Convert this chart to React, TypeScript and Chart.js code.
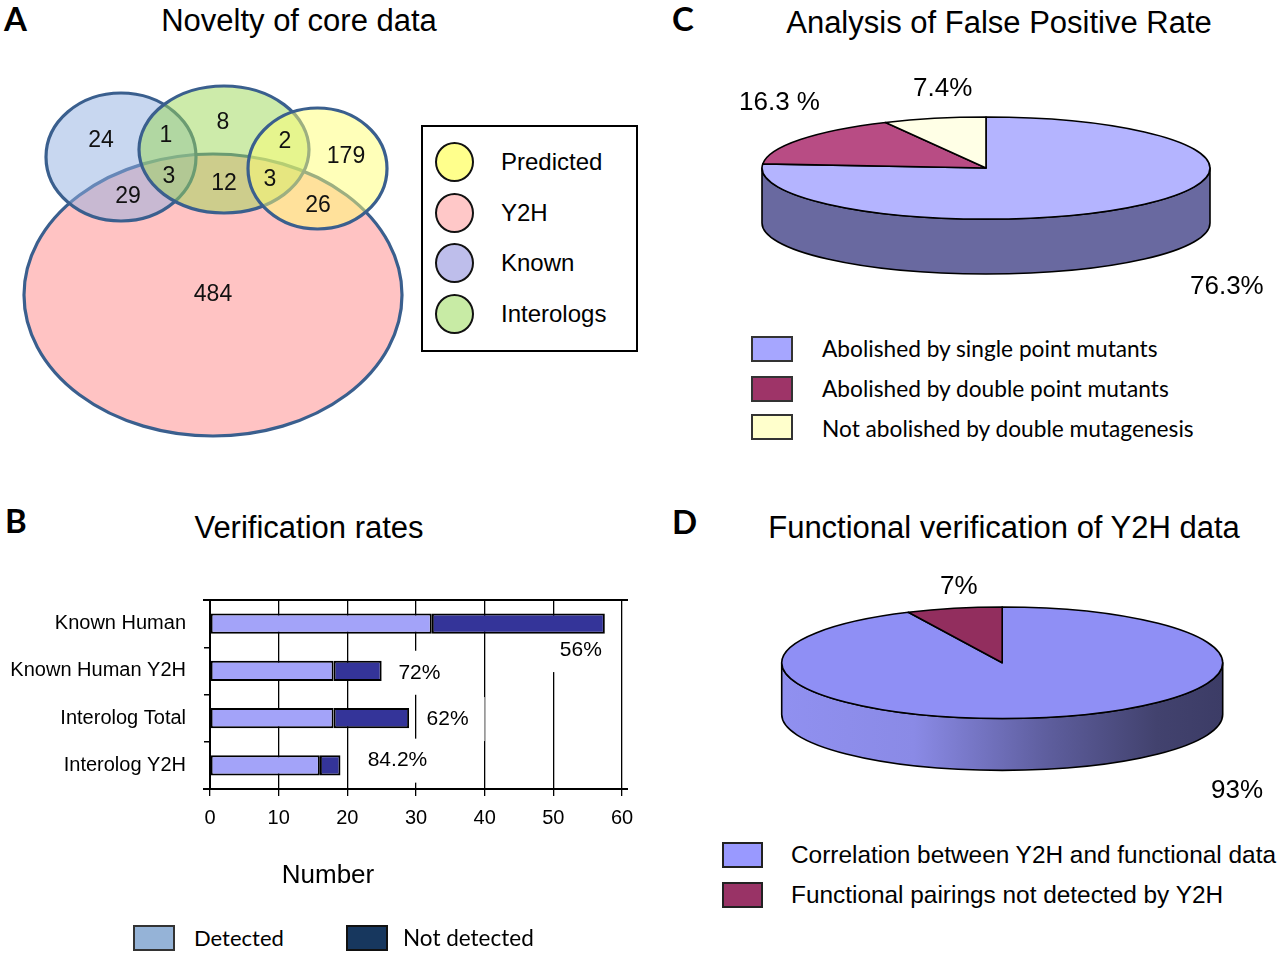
import React, { useEffect, useRef } from "react";
import { Chart, registerables } from "chart.js";

Chart.register(...registerables);
Chart.defaults.font.family = "'Liberation Sans', Arial, sans-serif";
Chart.defaults.color = "#000";

// ---------------- DATA ----------------
// Panel A: Venn diagram
const vennLegendSets = ["Predicted", "Y2H", "Known", "Interologs"];
const vennRegionCounts = [24, 1, 8, 2, 179, 3, 12, 3, 29, 26, 484];

// Panel B: verification rates
const barCategories = ["Known Human", "Known Human Y2H", "Interolog Total", "Interolog Y2H"];
const detectedCounts = [32.3, 18, 18, 16];
const notDetectedCounts = [25.2, 7, 11, 3];
const rateLabels = ["56%", "72%", "62%", "84.2%"];
const barSeriesNames = ["Detected", "Not detected"];
const xAxisTitle = "Number";
const xTickStep = 10;
const xMax = 60;

// Panel C: false positive rate
const fpLabels = ["Abolished by single point mutants", "Abolished by double point mutants", "Not abolished by double mutagenesis"];
const fpValues = [76.3, 16.3, 7.4];
const fpPctLabels = ["76.3%", "16.3 %", "7.4%"];

// Panel D: functional verification
const fnLabels = ["Correlation between Y2H and functional data", "Functional pairings not detected by Y2H"];
const fnValues = [93, 7];
const fnPctLabels = ["93%", "7%"];

// ---------------- LAYOUT / STYLE ----------------
const SANS = "'Liberation Sans', Arial, sans-serif";
const CAL = "Lato, 'Open Sans', sans-serif";

// Venn geometry (in page-pixel data units of the venn chart scales)
const VENN_ELLIPSES = [
  { cx: 213, cy: 295, rx: 189, ry: 141 },   // Y2H
  { cx: 121, cy: 157, rx: 75, ry: 64 },     // Known
  { cx: 224, cy: 149.5, rx: 85, ry: 63.5 }, // Interologs
  { cx: 317.5, cy: 168.5, rx: 69.5, ry: 60.5 }, // Predicted
];
const VENN_FILLS = ["rgb(255,195,195)", "rgba(145,175,225,0.5)", "rgba(155,215,85,0.5)", "rgba(255,255,115,0.5)"];
const VENN_LABEL_POS = [
  [101, 141], [166, 136], [223, 123], [285, 142], [346, 157],
  [169, 177], [224, 184], [270, 180], [128, 197], [318, 206], [213, 295],
];
const VENN_LEGEND_COLORS = ["#FFFF8C", "#FFC8C8", "#BEBEEB", "#C8EBA5"];

const RATE_POS_X = [54.0, 30.5, 34.6, 27.3];
const RATE_DY = [0.56, 0.04, 0.02, -0.1];

const FP_TOP = ["#B4B4FF", "#B84C84", "#FFFFE6"];
const FP_SIDE = ["#6969A0", "#6E2D4F", "#999988"];
const FN_TOP = ["#8F8FF5", "#922E5E"];

// ---------------- PLUGINS ----------------
const vennPlugin = {
  id: "venn",
  beforeDatasetsDraw(chart: any) {
    const { ctx } = chart;
    const xs = chart.scales.x, ys = chart.scales.y;
    ctx.save();
    VENN_ELLIPSES.forEach((e, i) => {
      const px = xs.getPixelForValue(e.cx);
      const py = ys.getPixelForValue(e.cy);
      const rx = Math.abs(xs.getPixelForValue(e.cx + e.rx) - px);
      const ry = Math.abs(ys.getPixelForValue(e.cy + e.ry) - py);
      ctx.beginPath();
      ctx.ellipse(px, py, rx, ry, 0, 0, Math.PI * 2);
      ctx.fillStyle = VENN_FILLS[i];
      ctx.fill();
      ctx.lineWidth = 3.2;
      ctx.strokeStyle = "#3A5F8E";
      ctx.stroke();
    });
    ctx.restore();
  },
  afterDatasetsDraw(chart: any) {
    const { ctx } = chart;
    const meta = chart.getDatasetMeta(0);
    ctx.save();
    ctx.font = `23px ${SANS}`;
    ctx.fillStyle = "#111";
    ctx.textAlign = "center";
    ctx.textBaseline = "middle";
    meta.data.forEach((pt: any, i: number) => {
      ctx.fillText(String(vennRegionCounts[i]), pt.x, pt.y);
    });
    ctx.restore();
  },
};

function makePie3d(cfg: { tilt: number; depth: number; sideColors?: string[]; gradient?: [number, string][] }) {
  return {
    id: "pie3d",
    beforeDatasetsDraw(chart: any) {
      const { ctx, chartArea: a } = chart;
      const meta = chart.getDatasetMeta(0);
      const ds = chart.data.datasets[0];
      const rx = (a.right - a.left) / 2;
      const ry = rx * cfg.tilt;
      const depth = rx * cfg.depth;
      const cx = (a.left + a.right) / 2;
      const cy = a.top + ry;
      ctx.save();
      ctx.lineWidth = 1.6;
      ctx.strokeStyle = "#000";
      ctx.lineJoin = "round";
      meta.data.forEach((arc: any, i: number) => {
        const s = Math.max(arc.startAngle, 0);
        const e = Math.min(arc.endAngle, Math.PI);
        if (e <= s) return;
        ctx.beginPath();
        ctx.ellipse(cx, cy, rx, ry, 0, s, e, false);
        ctx.ellipse(cx, cy + depth, rx, ry, 0, e, s, true);
        ctx.closePath();
        if (cfg.gradient) {
          const g = ctx.createLinearGradient(cx - rx, 0, cx + rx, 0);
          cfg.gradient.forEach(([o, c]) => g.addColorStop(o, c));
          ctx.fillStyle = g;
        } else {
          ctx.fillStyle = cfg.sideColors![i];
        }
        ctx.fill();
        ctx.stroke();
      });
      meta.data.forEach((arc: any, i: number) => {
        ctx.beginPath();
        ctx.moveTo(cx, cy);
        ctx.ellipse(cx, cy, rx, ry, 0, arc.startAngle, arc.endAngle, false);
        ctx.closePath();
        ctx.fillStyle = ds.backgroundColor[i];
        ctx.fill();
        ctx.stroke();
      });
      ctx.restore();
      return false;
    },
  };
}

const rateLabelPlugin = {
  id: "rateLabels",
  beforeDatasetsDraw(chart: any) {
    const { ctx } = chart;
    const xs = chart.scales.x, ys = chart.scales.y;
    ctx.save();
    ctx.font = `21px ${SANS}`;
    rateLabels.forEach((t, i) => {
      const w = ctx.measureText(t).width;
      const cx = xs.getPixelForValue(RATE_POS_X[i]);
      const cy = ys.getPixelForValue(i + RATE_DY[i]);
      ctx.fillStyle = "#fff";
      ctx.fillRect(cx - w / 2 - 9, cy - 22, w + 25, 44);
    });
    ctx.restore();
  },
  afterDatasetsDraw(chart: any) {
    const { ctx } = chart;
    const xs = chart.scales.x, ys = chart.scales.y;
    ctx.save();
    ctx.font = `21px ${SANS}`;
    ctx.fillStyle = "#000";
    ctx.textAlign = "center";
    ctx.textBaseline = "middle";
    rateLabels.forEach((t, i) => {
      ctx.fillText(t, xs.getPixelForValue(RATE_POS_X[i]), ys.getPixelForValue(i + RATE_DY[i]));
    });
    ctx.restore();
  },
  afterDraw(chart: any) {
    const { ctx, chartArea: a } = chart;
    ctx.save();
    ctx.strokeStyle = "#000";
    ctx.lineWidth = 2;
    ctx.beginPath();
    ctx.moveTo(a.left - 7, a.top);
    ctx.lineTo(a.right + 6, a.top);
    ctx.moveTo(a.left - 7, a.bottom);
    ctx.lineTo(a.right + 6, a.bottom);
    ctx.stroke();
    ctx.restore();
  },
};

// ---------------- CHART CONFIGS ----------------
const vennConfig = () => ({
  type: "scatter",
  data: {
    datasets: [{ data: VENN_LABEL_POS.map(([x, y]) => ({ x, y })), pointRadius: 0 }],
  },
  options: {
    responsive: false,
    animation: false,
    events: [],
    layout: { padding: 0 },
    scales: {
      x: { type: "linear", min: 0, max: 420, display: false },
      y: { type: "linear", min: 60, max: 460, reverse: true, display: false },
    },
    plugins: { legend: { display: false }, tooltip: { enabled: false } },
  },
  plugins: [vennPlugin],
});

const barConfig = () => ({
  type: "bar",
  data: {
    labels: barCategories,
    datasets: [
      {
        label: barSeriesNames[0], data: detectedCounts, backgroundColor: "#A3A3F9",
        borderColor: "#000", borderWidth: 2, borderSkipped: false, barPercentage: 0.43, categoryPercentage: 1,
      },
      {
        label: barSeriesNames[1], data: notDetectedCounts, backgroundColor: "#343499",
        borderColor: "#000", borderWidth: 2, borderSkipped: false, barPercentage: 0.43, categoryPercentage: 1,
      },
    ],
  },
  options: {
    indexAxis: "y",
    responsive: false,
    animation: false,
    events: [],
    layout: { padding: { top: 7, right: 38, left: 0, bottom: 0 } },
    scales: {
      x: {
        stacked: true, min: 0, max: xMax,
        ticks: { stepSize: xTickStep, font: { size: 20 }, padding: 10, color: "#000" },
        grid: { color: "#000", lineWidth: 1.3, tickLength: 7 },
        border: { display: false },
        afterFit: (s: any) => { s.height = 106; },
      },
      y: {
        stacked: true,
        ticks: { font: { size: 20 }, padding: 18, color: "#000" },
        grid: { drawOnChartArea: false, color: "#000", lineWidth: 1.5, tickLength: 6 },
        border: { display: true, color: "#000", width: 2 },
        afterFit: (s: any) => { s.width = 210; },
      },
    },
    plugins: { legend: { display: false }, tooltip: { enabled: false } },
  },
  plugins: [rateLabelPlugin],
});

const fpConfig = () => ({
  type: "pie",
  data: { labels: fpLabels, datasets: [{ data: fpValues, backgroundColor: FP_TOP }] },
  options: {
    responsive: false,
    animation: false,
    events: [],
    layout: { padding: { left: 22, right: 30, top: 17, bottom: 0 } },
    plugins: { legend: { display: false }, tooltip: { enabled: false } },
  },
  plugins: [makePie3d({ tilt: 0.228, depth: 0.245, sideColors: FP_SIDE })],
});

const fnConfig = () => ({
  type: "pie",
  data: { labels: fnLabels, datasets: [{ data: fnValues, backgroundColor: FN_TOP }] },
  options: {
    responsive: false,
    animation: false,
    events: [],
    layout: { padding: { left: 21.7, right: 37.3, top: 17, bottom: 0 } },
    plugins: { legend: { display: false }, tooltip: { enabled: false } },
  },
  plugins: [makePie3d({
    tilt: 0.253, depth: 0.235,
    gradient: [[0, "#9090F0"], [0.3, "#8A8AE6"], [0.6, "#5E5E9E"], [0.85, "#42426E"], [1, "#3C3C66"]],
  })],
});

// ---------------- COMPONENTS ----------------
function ChartBox(props: { left: number; top: number; width: number; height: number; config: () => any }) {
  const ref = useRef<HTMLCanvasElement>(null);
  useEffect(() => {
    const chart = new Chart(ref.current as HTMLCanvasElement, props.config());
    return () => chart.destroy();
  }, []);
  const { left, top, width, height } = props;
  return (
    <canvas
      ref={ref}
      width={width}
      height={height}
      style={{ position: "absolute", left, top, width, height }}
    />
  );
}

function T(props: { x: number; y: number; size: number; children: any; align?: string; family?: string; weight?: number }) {
  const { x, y, size, children, align = "left", family = SANS, weight = 400 } = props;
  const tx = align === "center" ? "-50%" : align === "right" ? "-100%" : "0";
  return (
    <div
      style={{
        position: "absolute", left: x, top: y - size * 0.5, fontSize: size, lineHeight: `${size}px`,
        fontFamily: family, fontWeight: weight, whiteSpace: "nowrap", transform: `translateX(${tx})`, color: "#000",
      }}
    >
      {children}
    </div>
  );
}

function Swatch(props: { left: number; top: number; w: number; h: number; color: string; round?: boolean; border?: string }) {
  return (
    <div
      style={{
        position: "absolute", left: props.left, top: props.top, width: props.w, height: props.h,
        background: props.color, border: props.border || "2px solid #222", boxSizing: "border-box",
        borderRadius: props.round ? "50%" : 0,
      }}
    />
  );
}

export default function App() {
  return (
    <div style={{ position: "absolute", left: 0, top: 0, width: 1280, height: 954, background: "#fff", overflow: "hidden" }}>
      {/* Panel A */}
      <T x={4} y={18} size={33} family={CAL} weight={700}>A</T>
      <T x={299} y={20} size={31} align="center">Novelty of core data</T>
      <ChartBox left={0} top={60} width={420} height={400} config={vennConfig} />
      <div style={{ position: "absolute", left: 421, top: 125, width: 217, height: 227, border: "2px solid #000", boxSizing: "border-box" }} />
      {vennLegendSets.map((s, i) => (
        <React.Fragment key={s}>
          <Swatch left={435} top={142 + i * 50.7} w={39} h={40} color={VENN_LEGEND_COLORS[i]} round border="2px solid #111" />
          <T x={501} y={162 + i * 50.7} size={24}>{s}</T>
        </React.Fragment>
      ))}

      {/* Panel B */}
      <T x={5} y={520} size={33} family={CAL} weight={700}>B</T>
      <T x={309} y={527} size={31} align="center">Verification rates</T>
      <ChartBox left={0} top={570} width={660} height={325} config={barConfig} />
      <T x={328} y={874} size={26} align="center">{xAxisTitle}</T>
      <Swatch left={133} top={925} w={42} h={26} color="#95B3D7" border="2px solid #333" />
      <T x={194} y={938} size={22} family={CAL}>{barSeriesNames[0]}</T>
      <Swatch left={346} top={925} w={42} h={26} color="#17375E" border="2px solid #111" />
      <T x={403} y={938} size={22.5} family={CAL}>{barSeriesNames[1]}</T>

      {/* Panel C */}
      <T x={672} y={18} size={33} family={CAL} weight={700}>C</T>
      <T x={999} y={22} size={31} align="center">Analysis of False Positive Rate</T>
      <ChartBox left={740} top={100} width={500} height={200} config={fpConfig} />
      <T x={739} y={101} size={26}>{fpPctLabels[1]}</T>
      <T x={913} y={87} size={26}>{fpPctLabels[2]}</T>
      <T x={1190} y={285} size={26}>{fpPctLabels[0]}</T>
      {fpLabels.map((l, i) => (
        <React.Fragment key={l}>
          <Swatch left={751} top={[336, 376, 414][i]} w={42} h={26} color={["#A6A6FF", "#9E3468", "#FFFFCC"][i]} border="2px solid #333" />
          <T x={822} y={[349, 389, 429][i]} size={22.7} family={CAL}>{l}</T>
        </React.Fragment>
      ))}

      {/* Panel D */}
      <T x={672} y={521} size={33} family={CAL} weight={700}>D</T>
      <T x={1004} y={527} size={31} align="center">Functional verification of Y2H data</T>
      <ChartBox left={760} top={590} width={500} height={200} config={fnConfig} />
      <T x={940} y={585} size={26}>{fnPctLabels[1]}</T>
      <T x={1211} y={789} size={26}>{fnPctLabels[0]}</T>
      {fnLabels.map((l, i) => (
        <React.Fragment key={l}>
          <Swatch left={722} top={[842, 882][i]} w={41} h={26} color={["#9999FF", "#993366"][i]} border="2px solid #222" />
          <T x={791} y={[855, 895][i]} size={24.4}>{l}</T>
        </React.Fragment>
      ))}
    </div>
  );
}
